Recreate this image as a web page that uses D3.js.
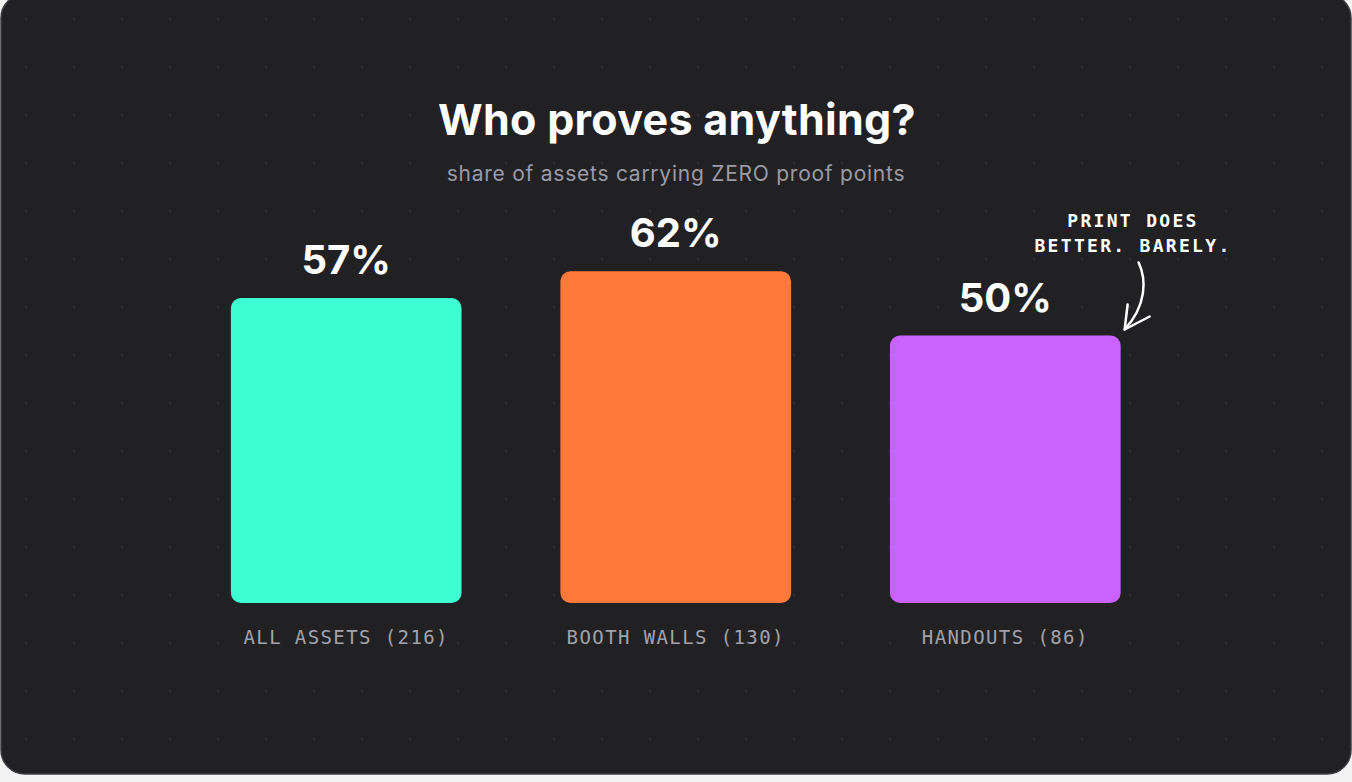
<!DOCTYPE html>
<html>
<head>
<meta charset="utf-8">
<script src="https://cdn.jsdelivr.net/npm/d3@7"></script>
<style>
    html, body { margin: 0; padding: 0; background: #f4f4f5; }
    #chart-area { width: 1352px; height: 782px; }
</style>
</head>
<body>
<div id="chart-area"></div>
<script>
// chart values
var categories = ["ALL ASSETS", "BOOTH WALLS", "HANDOUTS"];
var assetCounts = [216, 130, 86];
var zeroProofShare = [57, 62, 50];
var barColors = ["#3dffd2", "#ff7a3a", "#c962ff"];
var titleText = "Who proves anything?";
var subtitleText = "share of assets carrying ZERO proof points";
var noteLines = ["PRINT DOES", "BETTER. BARELY."];

function ProofChart(_parentElement) {
    this.parentElement = _parentElement;
    this.initVis();
}

ProofChart.prototype.initVis = function () {
    var vis = this;

    vis.width = 1352;
    vis.height = 782;

    vis.svg = d3.select("#" + vis.parentElement).append("svg")
        .attr("width", vis.width)
        .attr("height", vis.height);

    // dark card
    vis.svg.append("rect")
        .attr("x", 1)
        .attr("y", -6)
        .attr("width", 1350)
        .attr("height", 780)
        .attr("rx", 24)
        .attr("fill", "#212123")
        .attr("stroke", "#3d3d43")
        .attr("stroke-width", 1.5);

    // dot grid
    var dots = [];
    for (var gx = 26; gx < 1352; gx += 48) {
        for (var gy = 19; gy < 774; gy += 48) {
            dots.push([gx, gy]);
        }
    }
    vis.svg.append("g")
        .selectAll("circle")
        .data(dots)
        .enter().append("circle")
        .attr("cx", function (d) { return d[0]; })
        .attr("cy", function (d) { return d[1]; })
        .attr("r", 1.6)
        .attr("fill", "#2e2e32");

    vis.svg.append("text")
        .attr("x", 677)
        .attr("y", 135)
        .attr("text-anchor", "middle")
        .attr("fill", "#ffffff")
        .style("font-family", "Inter, 'Noto Sans', sans-serif")
        .style("font-weight", 700)
        .style("font-size", "43px")
        .style("letter-spacing", "0.3px")
        .text(titleText);

    vis.svg.append("text")
        .attr("x", 676)
        .attr("y", 181)
        .attr("text-anchor", "middle")
        .attr("fill", "#9b9ba6")
        .style("font-family", "Inter, 'Noto Sans', sans-serif")
        .style("font-size", "21px")
        .style("letter-spacing", "0.75px")
        .text(subtitleText);

    this.updateVis();
}

ProofChart.prototype.updateVis = function () {
    var vis = this;

    var rows = categories.map(function (c, i) {
        return { name: c, count: assetCounts[i], share: zeroProofShare[i], color: barColors[i] };
    });

    var xScale = d3.scaleBand()
        .domain(categories)
        .range([132, 1219.5])
        .padding(0.3);

    var yScale = d3.scaleLinear()
        .domain([0, 100])
        .range([603, 68]);

    var bars = vis.svg.append("g").selectAll("g")
        .data(rows)
        .enter().append("g");

    bars.append("rect")
        .attr("x", function (d) { return xScale(d.name); })
        .attr("y", function (d) { return yScale(d.share); })
        .attr("width", xScale.bandwidth())
        .attr("height", function (d) { return yScale(0) - yScale(d.share); })
        .attr("rx", 10)
        .attr("fill", function (d) { return d.color; });

    bars.append("text")
        .attr("x", function (d) { return xScale(d.name) + xScale.bandwidth() / 2; })
        .attr("y", function (d) { return yScale(d.share) - 24; })
        .attr("text-anchor", "middle")
        .attr("fill", "#ffffff")
        .style("font-family", "Inter, 'Noto Sans', sans-serif")
        .style("font-weight", 700)
        .style("font-size", "40px")
        .text(function (d) { return d.share + "%"; });

    bars.append("text")
        .attr("x", function (d) { return xScale(d.name) + xScale.bandwidth() / 2; })
        .attr("y", yScale(0) + 41)
        .attr("text-anchor", "middle")
        .attr("fill", "#a2a2ab")
        .style("font-family", "'DejaVu Sans Mono', monospace")
        .style("font-size", "19px")
        .style("letter-spacing", "1.4px")
        .text(function (d) { return d.name + " (" + d.count + ")"; });

    // annotation on the last bar
    var note = vis.svg.append("g");
    note.selectAll("text")
        .data(noteLines)
        .enter().append("text")
        .attr("x", 1133)
        .attr("y", function (d, i) { return 227 + i * 25; })
        .attr("text-anchor", "middle")
        .attr("fill", "#ffffff")
        .style("font-family", "'DejaVu Sans Mono', monospace")
        .style("font-weight", 700)
        .style("font-size", "18px")
        .style("letter-spacing", "2.3px")
        .text(function (d) { return d; });

    var last = rows[rows.length - 1];
    var tipX = xScale(last.name) + xScale.bandwidth() + 4;
    var tipY = yScale(last.share) - 6;

    note.append("path")
        .attr("d", "M" + (tipX + 14) + "," + (tipY - 67) +
            " C" + (tipX + 22) + "," + (tipY - 50) + " " + (tipX + 22) + "," + (tipY - 24) + " " + tipX + "," + tipY)
        .attr("fill", "none")
        .attr("stroke", "#ffffff")
        .attr("stroke-width", 2.5)
        .attr("stroke-linecap", "round");

    note.append("path")
        .attr("d", "M" + (tipX + 3) + "," + (tipY - 25) + " L" + tipX + "," + tipY + " L" + (tipX + 25) + "," + (tipY - 13))
        .attr("fill", "none")
        .attr("stroke", "#ffffff")
        .attr("stroke-width", 2.5)
        .attr("stroke-linecap", "round")
        .attr("stroke-linejoin", "round");
}

var proofChart = new ProofChart("chart-area");
</script>
</body>
</html>
